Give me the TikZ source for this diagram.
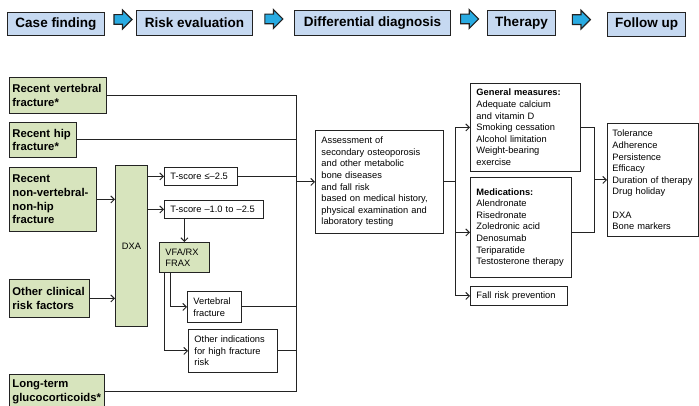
\documentclass[tikz,border=0pt]{standalone}
\usepackage{fontspec}
\setmainfont{Liberation Sans}
\usetikzlibrary{arrows.meta, positioning, shapes.arrows, calc}
\definecolor{stageblue}{RGB}{198,217,241}
\definecolor{factorgreen}{RGB}{215,228,189}
\definecolor{flowcyan}{RGB}{41,171,226}
\definecolor{linegray}{RGB}{35,35,35}
\tikzset{%
	stage/.style={draw=linegray, line width=1pt, fill=stageblue, anchor=north west,%
		inner sep=0pt, font=\bfseries\fontsize{13.5}{15}\selectfont},
	flow/.style={single arrow, draw=linegray, fill=flowcyan, line width=1.2pt,%
		minimum height=18, inner sep=0pt, single arrow head extend=4.5pt},
	factor/.style={draw=linegray, line width=0.9pt, fill=factorgreen, anchor=north west,%
		inner xsep=3pt, inner ysep=2pt, align=left, font=\bfseries\fontsize{11.3}{13.8}\selectfont},
	small/.style={font=\fontsize{9.3}{11.6}\selectfont},
	info/.style={draw=linegray, line width=0.9pt, fill=white, anchor=north west,%
		inner xsep=6pt, inner ysep=2pt, align=left, small},
	connector/.style={draw=linegray, line width=1pt},
	sel/.style={connector, -{Straight Barb[length=3.5pt, width=7pt, line width=1pt]}}
}
\begin{document}
\begin{tikzpicture}[x=1pt, y=-1pt]
			\useasboundingbox (0,0) rectangle (699,406);
			\node[stage, minimum width=97, minimum height=23] (case) at (7,12) {Case finding};
			\node[stage, minimum width=116, minimum height=25] (risk-ev) at (136,10) {Risk evaluation};
			\node[stage, minimum width=156, minimum height=25] (diff) at (294,10) {Differential diagnosis};
			\node[stage, minimum width=68, minimum height=25] (ther) at (487,10) {Therapy};
			\node[stage, minimum width=78, minimum height=24] (fol) at (607,12) {Follow up};
			\node[flow] (step-a) at ($(case.east)!0.5!(risk-ev.west)+(0,-4)$) {\rule{0pt}{8.5pt}};
			\node[flow] (step-b) at ($(risk-ev.east)!0.45!(diff.west)+(0,-4)$) {\rule{0pt}{8.5pt}};
			\node[flow] (step-c) at ($(diff.east)!0.45!(ther.west)+(0,-4)$) {\rule{0pt}{8.5pt}};
			\node[flow] (step-d) at ($(ther.east)!0.45!(fol.west)+(0,-4)$) {\rule{0pt}{8.5pt}};

			\node[factor, minimum width=97, minimum height=36, text width=91] (vert-fx) at (9,77) {Recent vertebral\\fracture*};
			\node[factor, minimum width=67, minimum height=35, text width=61] (hip-fx) at (9,122) {Recent hip\\fracture*};
			\node[factor, minimum width=87, minimum height=64, text width=81] (non-vert) at (9,167) {Recent\\non-vertebral-\\non-hip\\fracture};
			\node[factor, minimum width=80, minimum height=38, text width=74] (clin-rf) at (9,279) {Other clinical\\risk factors};
			\node[factor, minimum width=95, minimum height=35, text width=89] (gluco) at (9,374) {Long-term\\glucocorticoids*};
			\node[factor, small, align=center, minimum width=32, minimum height=161, text width=26] (dxa) at (115,165) {DXA};
			\node[factor, small, inner xsep=6pt, minimum width=50, minimum height=30, text width=38] (vfa) at (159,242) {VFA/RX\\FRAX};

			\node[info, minimum width=73, minimum height=18, text width=61] (t-low) at (164,167) {T-score ≤–2.5};
			\node[info, minimum width=99, minimum height=18, text width=87] (t-mid) at (164,200) {T-score –1.0 to –2.5};
			\node[info, minimum width=54, minimum height=31, text width=42] (vert-box) at (187,291) {Vertebral\\fracture};
			\node[info, minimum width=89, minimum height=43, text width=77] (other-ind) at (188,329) {Other indications\\for high fracture\\risk};
			\node[info, minimum width=128, minimum height=103, text width=116] (assess) at (315,130) {Assessment of\\secondary osteoporosis\\and other metabolic\\bone diseases\\and fall risk\\based on medical history,\\physical examination and\\laboratory testing};
			\node[info, minimum width=110, minimum height=88, text width=98] (general) at (470,83) {\textbf{General measures:}\\Adequate calcium\\and vitamin D\\Smoking cessation\\Alcohol limitation\\Weight-bearing\\exercise};
			\node[info, minimum width=101, minimum height=100, text width=89] (meds) at (470,177) {\textbf{Medications:}\\Alendronate\\Risedronate\\Zoledronic acid\\Denosumab\\Teriparatide\\Testosterone therapy};
			\node[info, minimum width=97, minimum height=19, text width=85] (fall-risk) at (470,286) {Fall risk prevention};
			\node[info, inner xsep=5pt, minimum width=91, minimum height=113, text width=81] (follow-up) at (607,123) {Tolerance\\Adherence\\Persistence\\Efficacy\\Duration of therapy\\Drug holiday\\[11.6pt]DXA\\Bone markers};

			\coordinate (bus) at (296,0);
			\coordinate (split) at (455,0);
			\coordinate (join) at (594,0);

			\draw [connector] (vert-fx.east) -- (vert-fx.east -| bus) -- (gluco.east -| bus) -- (gluco.east);
			\draw [connector] (hip-fx.east) -- (hip-fx.east -| bus);
			\draw [connector] (t-low.east) -- (t-low.east -| bus);
			\draw [connector] (vert-box.east) -- (vert-box.east -| bus);
			\draw [connector] (other-ind.east) -- (other-ind.east -| bus);
			\draw [sel] (assess.west -| bus) -- (assess.west);

			\draw [sel] (non-vert.east) -- (non-vert.east -| dxa.west);
			\draw [sel] (clin-rf.east) -- (clin-rf.east -| dxa.west);
			\draw [sel] (t-low.west -| dxa.east) -- (t-low.west);
			\draw [sel] (t-mid.west -| dxa.east) -- (t-mid.west);
			\draw [sel] (t-mid.south -| vfa.north) -- (vfa.north);
			\draw [sel] ([xshift=11pt]vfa.south west) |- (vert-box.west);
			\draw [sel] ([xshift=5pt]vfa.south west) |- (other-ind.west);

			\draw [connector] (assess.east) -- (assess.east -| split);
			\draw [connector] (general.west -| split) -- (fall-risk.west -| split);
			\draw [sel] (general.west -| split) -- (general.west);
			\draw [sel] ([yshift=-5pt]meds.west -| split) -- ([yshift=-5pt]meds.west);
			\draw [sel] (fall-risk.west -| split) -- (fall-risk.west);

			\draw [connector] (general.east) -- (general.east -| join) -- ([yshift=-5pt]meds.east -| join) -- ([yshift=-5pt]meds.east);
			\draw [sel] (follow-up.west -| join) -- (follow-up.west);
\end{tikzpicture}
\end{document}
